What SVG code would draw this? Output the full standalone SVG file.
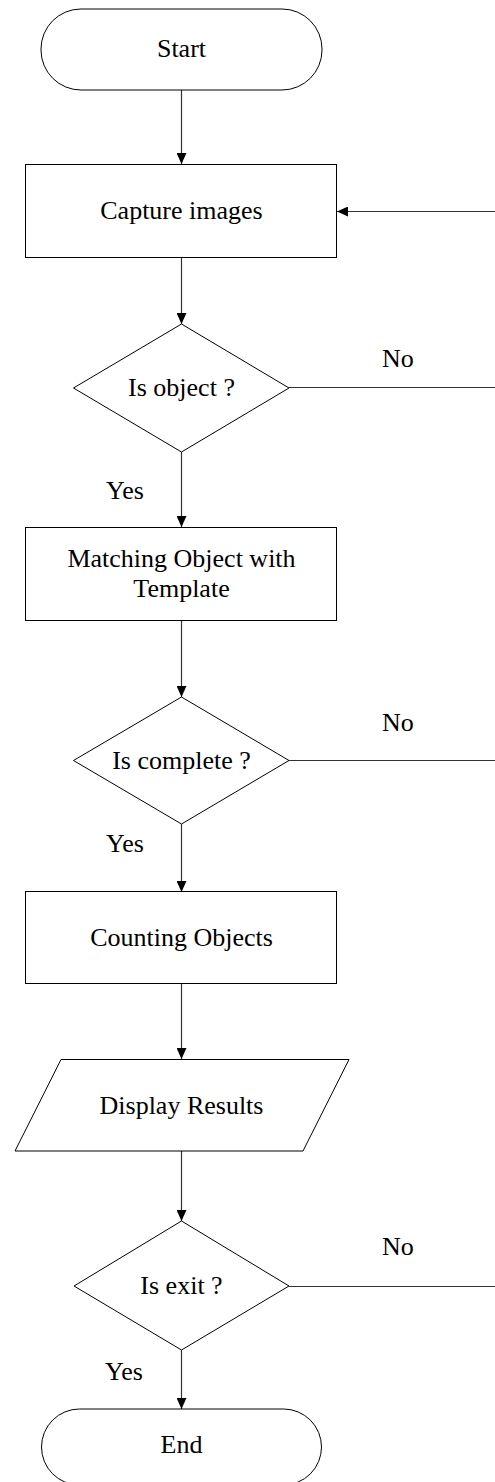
<svg xmlns="http://www.w3.org/2000/svg" width="495" height="1482" viewBox="0 0 495 1482">
<style>
.s{fill:#fff;stroke:#000;stroke-width:1}
.c{fill:none;stroke:#333;stroke-width:1.2}
.t{font-family:"Liberation Serif","Times New Roman",serif;font-size:26px;fill:#000;text-anchor:middle}
.l{font-family:"Liberation Serif","Times New Roman",serif;font-size:26px;fill:#000}
</style>
<defs>
<marker id="ah" markerWidth="11" markerHeight="10" refX="11" refY="5" orient="auto" markerUnits="userSpaceOnUse">
<path d="M0,0 L11,5 L0,10 Z" fill="#000"/>
</marker>
</defs>
<rect width="495" height="1482" fill="#fff"/>
<g id="connectors">
<line class="c" x1="181.5" y1="90" x2="181.5" y2="164" marker-end="url(#ah)"/>
<line class="c" x1="181.5" y1="258" x2="181.5" y2="324" marker-end="url(#ah)"/>
<line class="c" x1="181.5" y1="452" x2="181.5" y2="527" marker-end="url(#ah)"/>
<line class="c" x1="181.5" y1="621" x2="181.5" y2="697" marker-end="url(#ah)"/>
<line class="c" x1="181.5" y1="824" x2="181.5" y2="892" marker-end="url(#ah)"/>
<line class="c" x1="181.5" y1="984" x2="181.5" y2="1059" marker-end="url(#ah)"/>
<line class="c" x1="181.5" y1="1151" x2="181.5" y2="1221" marker-end="url(#ah)"/>
<line class="c" x1="181.5" y1="1350" x2="181.5" y2="1409" marker-end="url(#ah)"/>
<line class="c" x1="289" y1="387.5" x2="495" y2="387.5"/>
<line class="c" x1="289" y1="760.5" x2="495" y2="760.5"/>
<line class="c" x1="289" y1="1286.5" x2="495" y2="1286.5"/>
<line class="c" x1="495" y1="211.5" x2="337" y2="211.5" marker-end="url(#ah)"/>
<text class="l" x="106" y="499">Yes</text>
<text class="l" x="106" y="852">Yes</text>
<text class="l" x="105" y="1380">Yes</text>
<text class="l" x="382" y="367">No</text>
<text class="l" x="382" y="731">No</text>
<text class="l" x="382" y="1255">No</text>
</g>
<g id="start">
<rect class="s" x="41" y="9" width="281" height="81" rx="40" ry="40"/>
<text class="t" x="181.5" y="57">Start</text>
</g>
<g id="capture">
<rect class="s" x="25.5" y="164.5" width="311" height="93"/>
<text class="t" x="181.5" y="219">Capture images</text>
</g>
<g id="isobject">
<polygon class="s" points="181.5,324 289,388 181.5,452 73.5,388"/>
<text class="t" x="181.5" y="396">Is object ?</text>
</g>
<g id="matching">
<rect class="s" x="25.5" y="527.5" width="311" height="93"/>
<text class="t" x="181.5" y="567">Matching Object with</text>
<text class="t" x="181.5" y="597">Template</text>
</g>
<g id="iscomplete">
<polygon class="s" points="181.5,697 289,760.5 181.5,824 73.5,760.5"/>
<text class="t" x="181.5" y="769">Is complete ?</text>
</g>
<g id="counting">
<rect class="s" x="25.5" y="891.5" width="311" height="92"/>
<text class="t" x="181.5" y="946">Counting Objects</text>
</g>
<g id="display">
<polygon class="s" points="61,1059.5 349,1059.5 303,1151 15,1151"/>
<text class="t" x="181.5" y="1114">Display Results</text>
</g>
<g id="isexit">
<polygon class="s" points="181.5,1221 289,1286 181.5,1350 74,1286"/>
<text class="t" x="181.5" y="1294">Is exit ?</text>
</g>
<g id="end">
<rect class="s" x="41.5" y="1409" width="280" height="76" rx="38" ry="38"/>
<text class="t" x="181.5" y="1453">End</text>
</g>
</svg>
